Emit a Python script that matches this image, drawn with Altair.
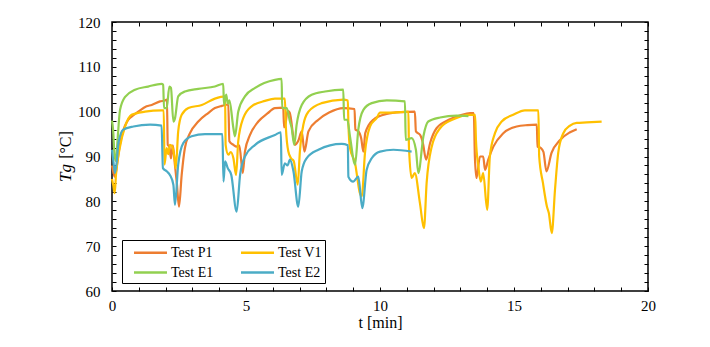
import altair as alt
import pandas as pd

series_names = ["Test P1", "Test E1", "Test V1", "Test E2"]
series_colors = ["#ED7D31", "#92D050", "#FFC000", "#4BACC6"]

p1_t = [0, 0.05, 0.1, 0.16, 0.25, 0.36, 0.48, 0.61, 0.8, 0.98, 1.29, 1.48, 1.79, 1.98, 2.05,
        2.08, 2.14, 2.2, 2.27, 2.35, 2.42, 2.5, 2.6, 2.72, 2.91, 3.22, 3.59, 3.84, 4.1, 4.34,
        4.38, 4.53, 4.65, 4.75, 4.88, 4.96, 5.15, 5.46, 5.8, 6.08, 6.39,
        6.42, 6.48, 6.55, 6.63, 6.83, 6.95, 7.08, 7.18, 7.33, 7.7, 8.1, 8.63, 9.05,
        9.08, 9.2, 9.3, 9.38, 9.45, 9.75, 10.25, 10.8, 11.3,
        11.34, 11.5, 11.6, 11.72, 11.87, 12.11, 12.61, 13.0, 13.36, 13.5,
        13.54, 13.6, 13.73, 13.85, 13.92, 14.04, 14.23, 14.6, 15.1, 15.5, 15.85,
        15.88, 16.0, 16.1, 16.21, 16.4, 16.72, 17.09, 17.34]
p1_tg = [88, 86.5, 85.5, 87, 91, 94.5, 96.8, 98.2, 99.2, 100, 101.2, 101.5, 102.3, 102.5, 102.7,
         92.6, 92.2, 89.6, 92.5, 88, 84, 78.8, 85.9, 91.9, 95.2, 97.8, 99.7, 100.8, 101.3, 101.6,
         93.4, 92.6, 92.2, 92.5, 86.3, 91.1, 94.8, 97.8, 99.6, 100.8, 100.9,
         96.5, 97.5, 100.2, 99.8, 92.6, 93.5, 95.6, 91.1, 95.6, 98.2, 99.8, 100.8, 100.6,
         96, 95.6, 94, 91.1, 95.2, 98.2, 99.5, 99.9, 100,
         95.6, 94.8, 93, 89.3, 93, 96.3, 98.3, 99.2, 99.7, 99.7,
         90, 85.2, 90, 90, 87, 89.3, 92.2, 95.2, 96.7, 97, 97.1,
         92.2, 91.9, 91, 86.7, 90.8, 93.7, 95.4, 96.1]

v1_t = [0, 0.05, 0.1, 0.15, 0.3, 0.49, 0.73, 1.23, 1.85, 1.93,
        1.96, 2.04, 2.1, 2.16, 2.24, 2.35, 2.38, 2.47, 2.6, 2.85, 3.35, 3.84, 4.22,
        4.24, 4.34, 4.43, 4.53, 4.63, 4.71, 4.9, 5.21, 5.71, 6.08, 6.45,
        6.49, 6.58, 6.68, 6.78, 6.93, 7.01, 7.14, 7.33, 7.82, 8.63, 8.8,
        8.82, 8.88, 9.07, 9.25, 9.32, 9.44, 9.63, 9.88, 10.0, 10.5, 11.06,
        11.08, 11.18, 11.3, 11.49, 11.64, 11.74, 11.93, 12.24, 12.74, 13.36, 13.55,
        13.58, 13.67, 13.76, 13.85, 14.0, 14.1, 14.29, 14.54, 14.97, 15.41, 15.91,
        15.94, 16.08, 16.23, 16.3, 16.41, 16.53, 16.65, 16.84, 17.09, 17.34, 17.71, 18.27]
v1_tg = [85, 83.5, 81.8, 86, 92.2, 96.7, 99.3, 100, 100.3, 100.3,
         88.2, 91.9, 90.5, 92.6, 92.3, 88.9, 87.4, 95.6, 99.3, 100.8, 101.5, 102.9, 103.4,
         92.6, 90.4, 91, 89.6, 85.9, 93.4, 98.6, 101.2, 102.4, 102.9, 102.9,
         96.3, 91.1, 89.6, 89, 83.7, 91.1, 97.1, 100, 101.9, 102.7, 102.5,
         97.5, 91.9, 88.5, 81.8, 81.1, 90.8, 96.7, 98.6, 99.8, 99.8, 100,
         92.2, 85.2, 86.3, 79.6, 74, 84.1, 92.2, 96.3, 98.3, 99.3, 99.3,
         93.7, 87.8, 84.4, 86.3, 78.1, 90, 95.2, 97.8, 99.3, 100.3, 100.3,
         90, 84.1, 78.8, 77.4, 72.9, 82.6, 90.8, 95.2, 96.9, 97.5, 97.6, 97.8]

e1_t = [0, 0.04, 0.1, 0.15, 0.2, 0.3, 0.49, 0.86, 1.35, 1.85, 1.91,
        1.94, 2.04, 2.14, 2.2, 2.29, 2.35, 2.47, 2.72, 3.22, 3.84, 4.15,
        4.18, 4.26, 4.32, 4.38, 4.53, 4.59, 4.71, 4.96, 5.34, 6.08, 6.33,
        6.35, 6.52, 6.64, 6.7, 6.8, 6.89, 7.08, 7.45, 7.95, 8.63,
        8.66, 8.78, 8.88, 9.07, 9.19, 9.38, 9.69, 10.25, 10.93,
        10.96, 11.18, 11.34, 11.43, 11.62, 11.8, 12.24, 12.86, 13.3]
e1_tg = [98, 96, 90, 89, 93, 100.4, 103.3, 104.9, 105.6, 106.2, 106,
         100.8, 100.8, 105.6, 105.3, 97.8, 98.5, 103.4, 104.5, 105.1, 105.6, 106.2,
         101.5, 103.8, 101.8, 102.5, 96.3, 94.5, 100, 103.4, 105.3, 107.1, 107.3,
         100.8, 100.8, 97.8, 96.5, 92.6, 97.1, 101.5, 103.8, 104.5, 104.9,
         98.2, 98.2, 94.5, 88.2, 96, 100.4, 101.9, 102.5, 102.3,
         93.7, 94.1, 91.5, 86.3, 94.5, 97.8, 98.7, 99.1, 99]

e2_t = [0, 0.05, 0.11, 0.18, 0.24, 0.42, 0.8, 1.42, 1.85,
        1.9, 2.04, 2.16, 2.29, 2.35, 2.47, 2.66, 2.97, 3.47, 4.12,
        4.16, 4.22, 4.32, 4.45, 4.65, 4.78, 4.96, 5.34, 6.08, 6.3,
        6.33, 6.45, 6.55, 6.64, 6.77, 6.95, 7.08, 7.26, 7.7, 8.57, 8.8,
        8.82, 9.0, 9.19, 9.34, 9.5, 9.69, 10.0, 10.5, 11.18]
e2_tg = [91.5, 89, 86.3, 89, 93, 96, 96.7, 97.1, 96.9,
         87.4, 86.7, 85.9, 83.7, 79.2, 88.2, 93, 94.5, 95, 95,
         84.4, 88.9, 87.4, 85.9, 77.7, 85.9, 90, 92.6, 94.8, 95.4,
         85.9, 88.5, 88, 89.3, 86.7, 78.8, 86.7, 89.6, 91.5, 92.8, 92.5,
         85.5, 84.4, 85.5, 78.5, 87, 89.6, 91.1, 91.5, 91.1]

x_major = [0, 5, 10, 15, 20]
x_minor = list(range(0, 21, 1))
y_major = [60, 70, 80, 90, 100, 110, 120]
y_minor = list(range(60, 121, 2))
y_title_var = "Tg"
y_title_unit = "[°C]"
x_title = "t [min]"

rows = []
for name, ts, vs in [("Test P1", p1_t, p1_tg), ("Test V1", v1_t, v1_tg),
                     ("Test E1", e1_t, e1_tg), ("Test E2", e2_t, e2_tg)]:
    for i, (t, v) in enumerate(zip(ts, vs)):
        rows.append({"series": name, "t": t, "Tg": v, "i": i})
df = pd.DataFrame(rows)

W, H = 536, 269
FONT = "Liberation Serif"
xs = alt.Scale(domain=[0, 20], nice=False, zero=False)
ys = alt.Scale(domain=[60, 120], nice=False, zero=False)

lines = alt.Chart(df).mark_line(strokeWidth=2.2, interpolate="monotone").encode(
    x=alt.X("t:Q", scale=xs, axis=alt.Axis(
        orient="bottom", values=x_major, title=x_title, ticks=False, domain=False, grid=False,
        labelFont=FONT, labelFontSize=15, labelColor="black", labelPadding=7,
        labelFlush=False, labelOverlap=False,
        titleFont=FONT, titleFontSize=16, titleFontWeight="normal", titleColor="black",
        titlePadding=1)),
    y=alt.Y("Tg:Q", scale=ys, axis=alt.Axis(
        orient="left", values=y_major, title=None, ticks=False, domain=False, grid=False,
        labelFont=FONT, labelFontSize=15, labelColor="black", labelPadding=12,
        labelFlush=False, labelOverlap=False)),
    color=alt.Color("series:N", scale=alt.Scale(domain=series_names, range=series_colors),
                    legend=alt.Legend(
                        orient="none", legendX=10, legendY=218, columns=2, title=None,
                        symbolType="M-2,0H2", symbolSize=272, symbolStrokeWidth=2.5,
                        symbolOffset=16, labelOffset=11,
                        labelFont=FONT, labelFontSize=14, labelColor="black",
                        strokeColor="black", fillColor="white", padding=3,
                        columnPadding=18, rowPadding=3)),
    order=alt.Order("i:Q"),
)


def tick_layer(x_axis, y_axis):
    return alt.Chart(df).mark_point(opacity=0).encode(
        x=alt.X("t:Q", scale=xs, axis=x_axis),
        y=alt.Y("Tg:Q", scale=ys, axis=y_axis),
    )


def tick_axis(orient, offset, values):
    return alt.Axis(orient=orient, offset=offset, values=values, labels=False, domain=False,
                    grid=False, ticks=True, tickSize=4, tickColor="black", tickWidth=1,
                    title=None)


bottom_ticks = tick_layer(tick_axis("top", -H, x_minor), None)
top_ticks = tick_layer(tick_axis("bottom", -H, x_minor), None)
left_ticks = tick_layer(None, tick_axis("right", -W, y_minor))
right_ticks = tick_layer(None, tick_axis("left", -W, y_minor))

title_var = alt.Chart(pd.DataFrame({"s": [y_title_var]})).mark_text(
    angle=270, font=FONT, fontSize=17, fontStyle="italic", color="black"
).encode(x=alt.value(-46), y=alt.value(151), text="s:N")

title_unit = alt.Chart(pd.DataFrame({"s": [y_title_unit]})).mark_text(
    angle=270, font=FONT, fontSize=16, color="black"
).encode(x=alt.value(-46), y=alt.value(123), text="s:N")

chart = alt.layer(
    lines, bottom_ticks, top_ticks, left_ticks, right_ticks, title_var, title_unit
).resolve_axis(x="independent", y="independent").properties(
    width=W, height=H,
    autosize=alt.AutoSizeParams(type="none"),
    padding={"left": 104, "top": 14, "right": 40, "bottom": 40},
).configure_view(stroke="black", strokeWidth=1.5)

chart.save("out.html", embed_options={"renderer": "svg", "actions": False})
